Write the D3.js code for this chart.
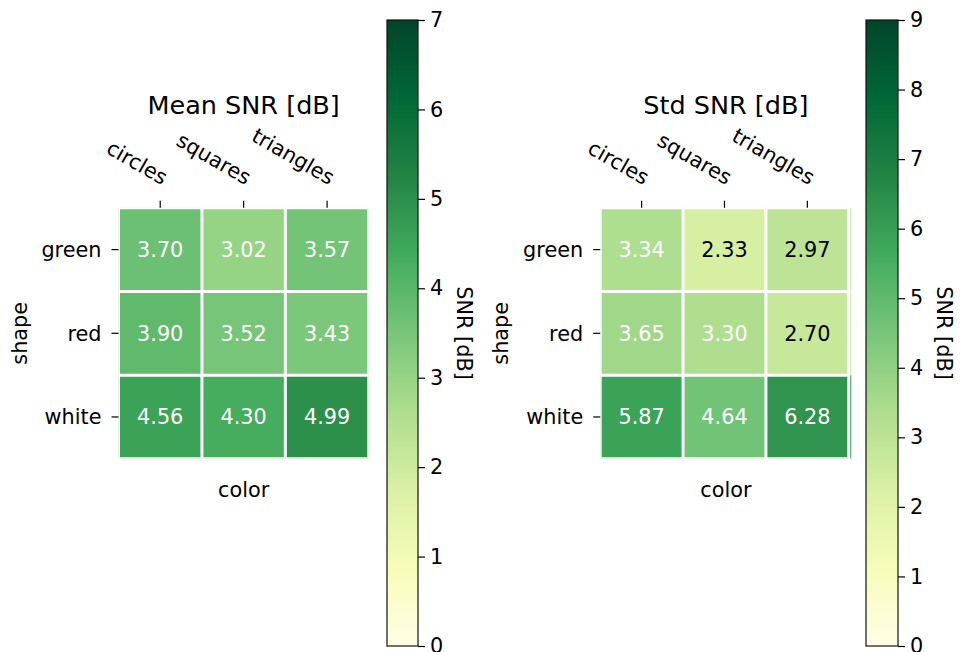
<!DOCTYPE html>
<html>
<head>
<meta charset="utf-8">
<script src="https://cdn.jsdelivr.net/npm/d3@7"></script>
<style>
  html, body { margin: 0; padding: 0; background: #fff; }
  svg { display: block; font-family: "DejaVu Sans", sans-serif; }
</style>
</head>
<body>
<svg id="chart" width="963" height="652"></svg>
<script>
// Categories along each axis
const COLOR_LABELS = ["circles", "squares", "triangles"];
const SHAPE_LABELS = ["green", "red", "white"];

// SNR values, one row per shape
const MEAN_SNR = [
  [3.70, 3.02, 3.57],
  [3.90, 3.52, 3.43],
  [4.56, 4.30, 4.99]
];
const STD_SNR = [
  [3.34, 2.33, 2.97],
  [3.65, 3.30, 2.70],
  [5.87, 4.64, 6.28]
];

// Colour bar ranges and tick labels
const MEAN_RANGE = [0, 7];
const STD_RANGE = [0, 9];
const MEAN_CBAR_TICKS = [0, 1, 2, 3, 4, 5, 6, 7];
const STD_CBAR_TICKS = [0, 1, 2, 3, 4, 5, 6, 7, 8, 9];

// YlGn colour map anchor colours (low -> high)
const YLGN = ["#ffffe5", "#f7fcb9", "#d9f0a3", "#addd8e", "#78c679",
              "#41ab5d", "#238443", "#006837", "#004529"];

const svg = d3.select("#chart");
const FONT = 20.8;
const TITLE_FONT = 25.5;

function drawPanel(cfg) {
  const { title, data, range, ticks, ax, cb } = cfg;
  const g = svg.append("g");

  const norm = d3.scaleLinear().domain(range).range([0, 1]).clamp(true);
  const cmap = d3.scaleLinear()
    .domain(YLGN.map((_, i) => i / (YLGN.length - 1)))
    .range(YLGN)
    .interpolate(d3.interpolateRgb);
  const colour = v => cmap(norm(v));

  const x = d3.scaleLinear().domain([-0.5, ax.xmax]).range([ax.x0, ax.x1]);
  const y = d3.scaleLinear().domain([-0.5, 2.5]).range([ax.y0, ax.y1]);

  const clipId = "clip-" + cfg.id;
  g.append("clipPath").attr("id", clipId)
    .append("rect")
    .attr("x", ax.x0).attr("y", ax.y0)
    .attr("width", ax.x1 - ax.x0).attr("height", ax.y1 - ax.y0);

  const body = g.append("g").attr("clip-path", `url(#${clipId})`);

  const cells = [];
  data.forEach((row, i) => row.forEach((v, j) => cells.push({ i, j, v })));

  // last column spills up to the end of the x domain
  body.selectAll("rect.cell").data(cells).join("rect")
    .attr("class", "cell")
    .attr("x", d => x(d.j - 0.5))
    .attr("y", d => y(d.i - 0.5))
    .attr("width", d => (d.j === COLOR_LABELS.length - 1 ? x(ax.xmax) : x(d.j + 0.5)) - x(d.j - 0.5))
    .attr("height", d => y(d.i + 0.5) - y(d.i - 0.5))
    .attr("fill", d => colour(d.v));

  // white grid between cells
  const bounds = d3.range(-0.5, 3, 1);
  body.selectAll("line.vgrid").data(bounds).join("line")
    .attr("x1", d => x(d)).attr("x2", d => x(d))
    .attr("y1", ax.y0).attr("y2", ax.y1)
    .attr("stroke", "#fff").attr("stroke-width", 3);
  body.selectAll("line.hgrid").data(bounds).join("line")
    .attr("x1", x(-0.5)).attr("x2", x(2.5) + 1.5)
    .attr("y1", d => y(d)).attr("y2", d => y(d))
    .attr("stroke", "#fff").attr("stroke-width", 3);

  // value annotations
  const maxV = d3.max(data.flat());
  const threshold = norm(maxV) / 2;
  g.selectAll("text.val").data(cells).join("text")
    .attr("x", d => x(d.j))
    .attr("y", d => y(d.i))
    .attr("dy", "0.36em")
    .attr("text-anchor", "middle")
    .attr("font-size", FONT)
    .attr("fill", d => norm(d.v) > threshold ? "#fff" : "#000")
    .text(d => d.v.toFixed(2));

  // top ticks + rotated column labels
  const TICK = 7;
  g.selectAll("line.xt").data(COLOR_LABELS).join("line")
    .attr("x1", (d, j) => x(j)).attr("x2", (d, j) => x(j))
    .attr("y1", ax.y0 - TICK).attr("y2", ax.y0)
    .attr("stroke", "#000").attr("stroke-width", 1.2);
  g.selectAll("text.xl").data(COLOR_LABELS).join("text")
    .attr("transform", (d, j) => `translate(${x(j) - 4},${ax.y0 - 12}) rotate(30)`)
    .attr("y", -12)
    .attr("text-anchor", "end")
    .attr("font-size", FONT)
    .attr("fill", "#000")
    .text(d => d);

  // left ticks + row labels
  g.selectAll("line.yt").data(SHAPE_LABELS).join("line")
    .attr("x1", ax.x0 - TICK).attr("x2", ax.x0)
    .attr("y1", (d, i) => y(i)).attr("y2", (d, i) => y(i))
    .attr("stroke", "#000").attr("stroke-width", 1.2);
  g.selectAll("text.yl").data(SHAPE_LABELS).join("text")
    .attr("x", ax.x0 - 17)
    .attr("y", (d, i) => y(i))
    .attr("dy", "0.36em")
    .attr("text-anchor", "end")
    .attr("font-size", FONT)
    .attr("fill", "#000")
    .text(d => d);

  // axis titles
  const cx = (ax.x0 + ax.x1) / 2;
  g.append("text")
    .attr("x", cx).attr("y", 114)
    .attr("text-anchor", "middle")
    .attr("font-size", TITLE_FONT)
    .attr("fill", "#000")
    .text(title);
  g.append("text")
    .attr("x", cx).attr("y", 497)
    .attr("text-anchor", "middle")
    .attr("font-size", FONT)
    .attr("fill", "#000")
    .text("color");
  g.append("text")
    .attr("transform", `translate(${ax.x0 - 92},${(ax.y0 + ax.y1) / 2}) rotate(-90)`)
    .attr("text-anchor", "middle")
    .attr("font-size", FONT)
    .attr("fill", "#000")
    .text("shape");

  // colour bar
  const gradId = "grad-" + cfg.id;
  const grad = svg.append("defs").append("linearGradient")
    .attr("id", gradId)
    .attr("x1", 0).attr("y1", 1).attr("x2", 0).attr("y2", 0);
  grad.selectAll("stop").data(YLGN).join("stop")
    .attr("offset", (d, i) => i / (YLGN.length - 1))
    .attr("stop-color", d => d);

  const cy = d3.scaleLinear().domain(range).range([cb.y1, cb.y0]);
  g.append("rect")
    .attr("x", cb.x0).attr("y", cb.y0)
    .attr("width", cb.x1 - cb.x0).attr("height", cb.y1 - cb.y0)
    .attr("fill", `url(#${gradId})`)
    .attr("stroke", "#111").attr("stroke-width", 1.2);

  const cbAxis = d3.axisRight(cy).tickValues(ticks).tickSize(TICK).tickPadding(5)
    .tickFormat(d3.format("d"));
  const axG = g.append("g").attr("transform", `translate(${cb.x1},0)`).call(cbAxis);
  axG.select(".domain").remove();
  axG.selectAll(".tick line").attr("stroke", "#000").attr("stroke-width", 1.2);
  axG.selectAll(".tick text")
    .attr("font-size", FONT)
    .attr("font-family", "DejaVu Sans, sans-serif")
    .attr("fill", "#000");

  g.append("text")
    .attr("transform", `translate(${cb.labelX},${(cb.y0 + cb.y1) / 2}) rotate(90)`)
    .attr("text-anchor", "middle")
    .attr("font-size", FONT)
    .attr("fill", "#000")
    .text("SNR [dB]");
}

drawPanel({
  id: "mean",
  title: "Mean SNR [dB]",
  data: MEAN_SNR,
  range: MEAN_RANGE,
  ticks: MEAN_CBAR_TICKS,
  ax: { x0: 118.5, x1: 368.8, y0: 207.8, y1: 458.8, xmax: 2.5 },
  cb: { x0: 387, x1: 418, y0: 20, y1: 646, labelX: 457 }
});

drawPanel({
  id: "std",
  title: "Std SNR [dB]",
  data: STD_SNR,
  range: STD_RANGE,
  ticks: STD_CBAR_TICKS,
  ax: { x0: 600.2, x1: 851.5, y0: 207.8, y1: 458.8, xmax: 2.533 },
  cb: { x0: 866, x1: 898, y0: 20, y1: 646, labelX: 937 }
});
</script>
</body>
</html>
